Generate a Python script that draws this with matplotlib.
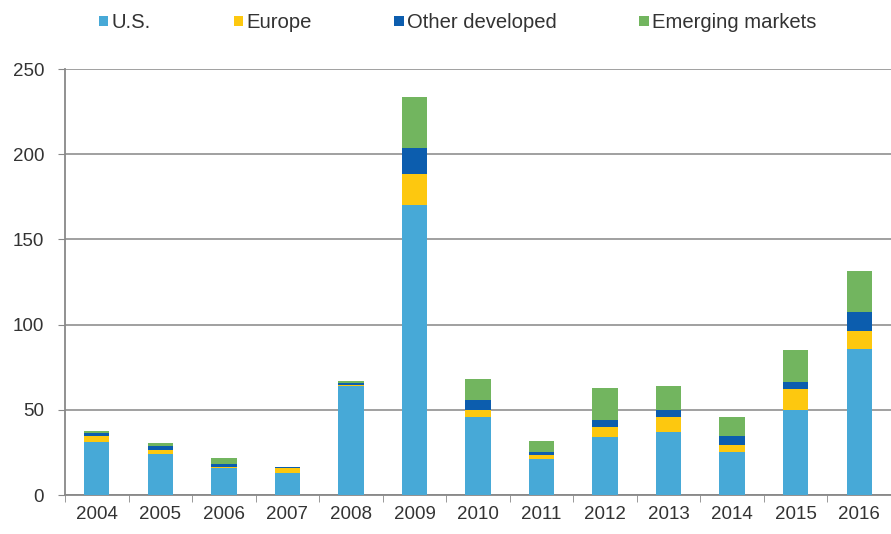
import matplotlib
matplotlib.use('Agg')
import matplotlib.pyplot as plt
import numpy as np

years = ['2004', '2005', '2006', '2007', '2008', '2009', '2010',
         '2011', '2012', '2013', '2014', '2015', '2016']
us = [31, 24, 16, 13, 64, 170, 46, 21, 34, 37, 25.5, 50, 85.7]
europe = [3.5, 2.5, 0.5, 3, 0.5, 18.5, 4, 2.5, 6, 9, 4, 12.5, 10.5]
other_dev = [2, 2.5, 1.5, 0.3, 1.5, 15, 6, 2, 4, 4, 5, 4, 11]
emerging = [1.2, 1.3, 3.5, 0.3, 1, 30, 12, 6, 19, 14, 11.5, 18.5, 24.5]

series = [('U.S.', us, '#47A9D7'),
          ('Europe', europe, '#FDC80F'),
          ('Other developed', other_dev, '#0C5DAE'),
          ('Emerging markets', emerging, '#72B55F')]

plt.rcParams['font.family'] = ['Liberation Sans', 'DejaVu Sans']

fig = plt.figure(figsize=(8.91, 5.34), dpi=100)
ax = fig.add_axes([65 / 891, 39 / 534, 1 - 65 / 891, 426 / 534])

x = np.arange(len(years))
bottom = np.zeros(len(years))
handles = []
for name, vals, col in series:
    b = ax.bar(x, vals, 0.4, bottom=bottom, color=col, label=name, zorder=3)
    bottom += np.array(vals)
    handles.append(b)

ax.set_ylim(0, 250)
ax.set_yticks([0, 50, 100, 150, 200, 250])
ax.set_xlim(-0.5, 12.37)
ax.set_xticks(x)
ax.set_xticklabels(years)
ax.set_xticks(np.arange(-0.5, 13, 1), minor=True)
ax.tick_params(axis='x', which='major', length=0, pad=8, labelsize=13.5, colors='#333333')
ax.tick_params(axis='x', which='minor', length=5, color='#888888', direction='out')
ax.tick_params(axis='y', length=5, color='#888888', pad=10, labelsize=13.5, labelcolor='#333333')
ax.grid(axis='y', color='#999999', linewidth=1.3, zorder=0)
for s in ['top', 'right']:
    ax.spines[s].set_visible(False)
for s in ['left', 'bottom']:
    ax.spines[s].set_color('#888888')
    ax.spines[s].set_linewidth(1.3)

fig.legend(handles=handles, loc='upper left', bbox_to_anchor=(86 / 891, 1.0),
           borderaxespad=0.25, ncol=4, frameon=False, fontsize=14.6, handlelength=0.45,
           handleheight=0.45, handletextpad=0.15, columnspacing=4.1, labelcolor='#333333')

plt.savefig('out.png', dpi=100)
